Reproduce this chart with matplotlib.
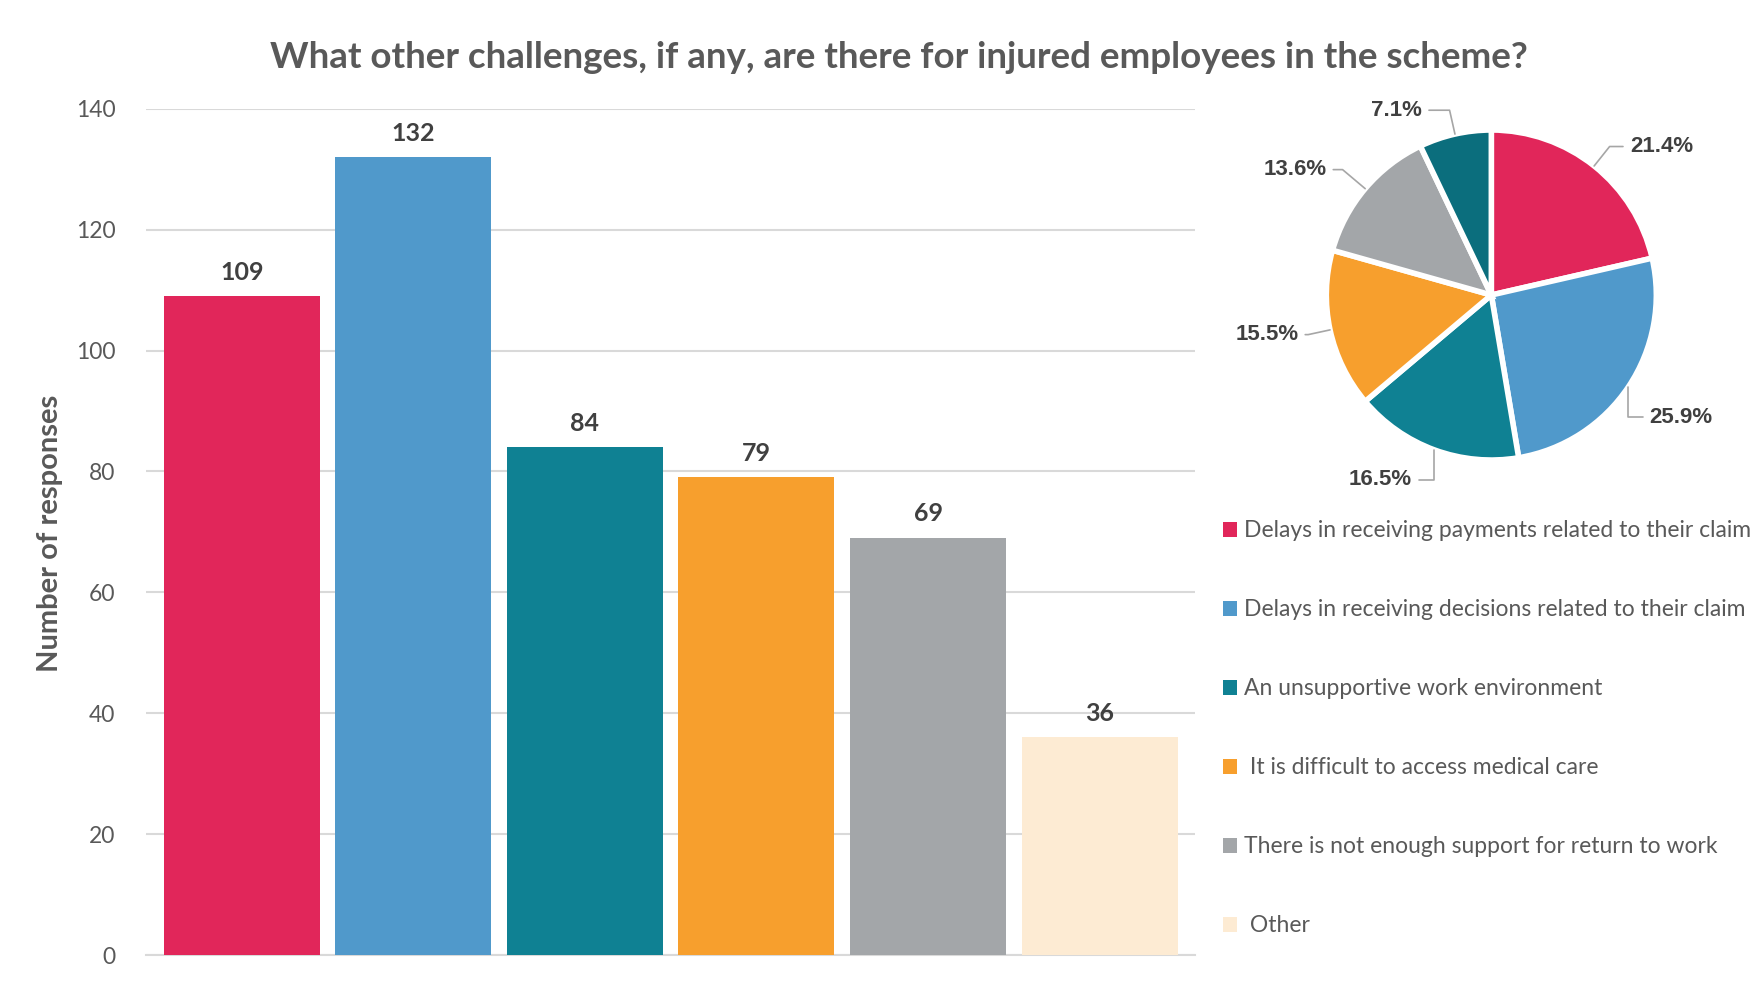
import numpy as np
import matplotlib
matplotlib.use("Agg")
import matplotlib.pyplot as plt
from matplotlib.patches import Patch

plt.rcParams['font.family'] = ['Lato', 'DejaVu Sans']

categories = ["Delays in receiving payments related to their claim",
              "Delays in receiving decisions related to their claim",
              "An unsupportive work environment",
              " It is difficult to access medical care",
              "There is not enough support for return to work",
              " Other"]
responses = [109, 132, 84, 79, 69, 36]
bar_colors = ["#E1265A", "#5099CB", "#0F8193", "#F79F2D", "#A3A6A9", "#FDEBD3"]
pie_colors = ["#E1265A", "#5099CB", "#0F8193", "#F79F2D", "#A3A6A9", "#0B6E7D"]
yticks = [0, 20, 40, 60, 80, 100, 120, 140]

# pie label placement (radius units from centre) and leader angle at the wedge
pie_label_pos = [(0.84, 0.90), (0.96, -0.74), (-0.48, -1.12), (-1.17, -0.24), (-1.0, 0.76), (-0.42, 1.12)]
leader_angle = [None, 90, 90, None, None, None]

txt = "#595959"
dark = "#404040"

fig = plt.figure(figsize=(17.63, 9.91), dpi=100)

# bar chart
ax = fig.add_axes([0.0829, 0.0363, 0.595, 0.854])
x = np.arange(len(responses))
bars = ax.bar(x, responses, width=0.91, color=bar_colors, zorder=3)
ax.bar_label(bars, padding=9, fontsize=18, fontweight="bold", color=dark)
ax.set_ylim(0, 140)
ax.set_xlim(-0.557, 5.557)
ax.set_yticks(yticks)
ax.set_xticks([])
ax.tick_params(axis="y", length=0, pad=22, labelsize=16.5, labelcolor=txt)
ax.grid(axis="y", color="#D9D9D9", linewidth=1.5, zorder=0)
for s in ["top", "right", "left"]:
    ax.spines[s].set_visible(False)
ax.spines["bottom"].set_color("#D9D9D9")
ax.spines["bottom"].set_linewidth(1.5)

fig.text(0.0285, 0.462, "Number of responses", rotation=90, ha="center", va="center",
         fontsize=21, fontweight="bold", color=txt)
fig.text(0.51, 0.942, "What other challenges, if any, are there for injured employees in the scheme?",
         ha="center", va="center", fontsize=26.5, fontweight="bold", color=txt)

# pie chart
pax = fig.add_axes([0.7523, 0.5358, 0.1872, 0.333])
total = sum(responses)
wedges, _ = pax.pie(responses, colors=pie_colors, startangle=90, counterclock=False,
                    wedgeprops=dict(edgecolor="white", linewidth=4))
pax.set_xlim(-1, 1)
pax.set_ylim(-1, 1)
pax.set_aspect("equal")
for w, v, pos, la in zip(wedges, responses, pie_label_pos, leader_angle):
    ang = np.deg2rad((w.theta1 + w.theta2) / 2)
    ex, ey = np.cos(ang), np.sin(ang)
    ha = "left" if pos[0] > 0 else "right"
    angB = np.rad2deg(ang) + 180 if la is None else la
    pax.annotate(f"{v / total * 100:.1f}%", xy=(ex, ey), xytext=pos, ha=ha, va="center",
                 fontsize=16, fontweight="bold", color=dark,
                 family=['Liberation Sans', 'DejaVu Sans'],
                 arrowprops=dict(arrowstyle="-", color="#A6A6A6", linewidth=1.2,
                                 shrinkA=3, shrinkB=0,
                                 connectionstyle=f"angle,angleA=0,angleB={angB:.1f},rad=0"))

handles = [Patch(facecolor=c) for c in bar_colors]
fig.legend(handles, categories, loc="upper left", bbox_to_anchor=(0.6935, 0.475),
           frameon=False, fontsize=16.5, labelcolor=txt, handlelength=0.63, handleheight=0.63,
           handletextpad=0.3, labelspacing=2.53, borderpad=0, borderaxespad=0)

fig.savefig("out.png", dpi=100)
